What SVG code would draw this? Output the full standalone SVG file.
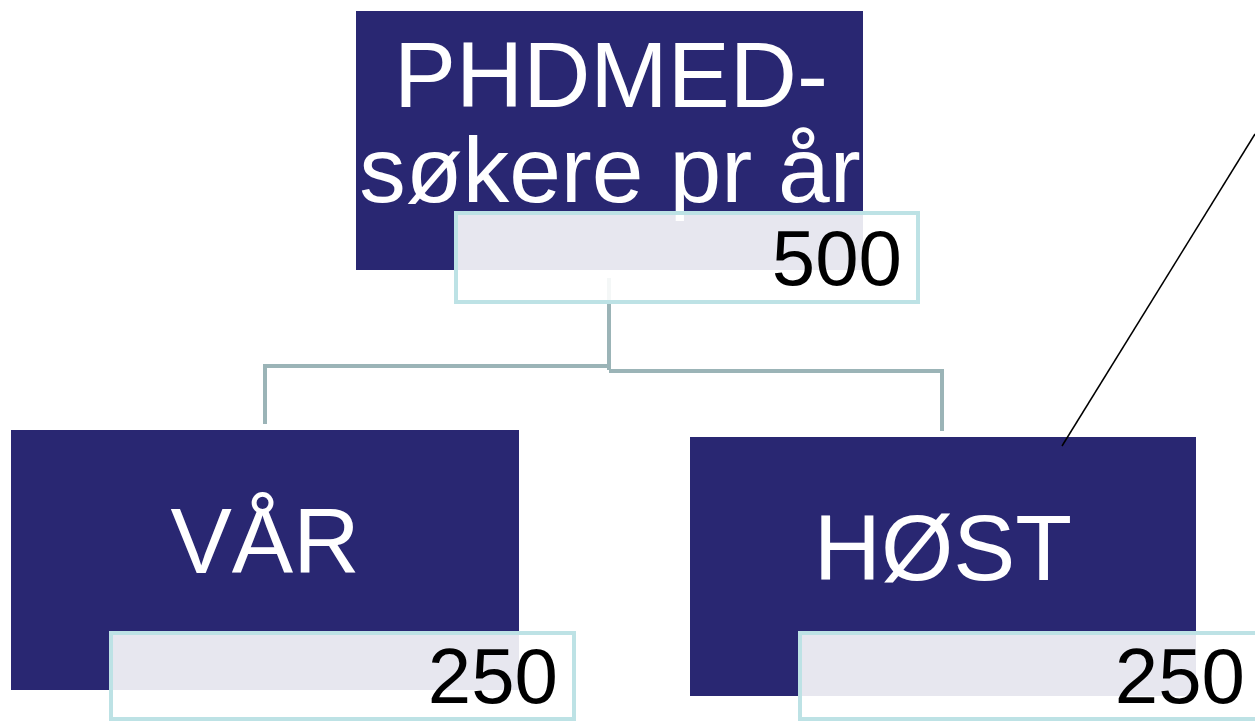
<svg xmlns="http://www.w3.org/2000/svg" width="1255" height="721" viewBox="0 0 1255 721">
<style>
.main{fill:#292772}
.sub{fill:#ffffff;fill-opacity:0.89;stroke:#bde2e5;stroke-width:4}
.t{font-family:"Liberation Sans",Arial,sans-serif;fill:#ffffff;text-anchor:middle}
.n{font-family:"Liberation Sans",Arial,sans-serif;fill:#000000;text-anchor:end;font-size:78px}
.c{fill:none;stroke:#9bb4b7;stroke-width:4}
</style>
<rect width="1255" height="721" fill="#ffffff"/>
<g id="connectors">
<path class="c" d="M609 278 V370 M265 424 V366 H609 M609 371 H942 V431"/>
</g>
<g id="node-top">
<rect class="main" x="356" y="11" width="507" height="259"/>
<text class="t" font-size="93" x="611" y="107">PHDMED-</text>
<text class="t" font-size="93" x="610" y="202">søkere pr år</text>
<rect class="sub" x="456" y="213" width="462" height="89"/>
<text class="n" x="902" y="285">500</text>
</g>
<g id="node-var">
<rect class="main" x="11" y="430" width="508" height="260"/>
<text class="t" font-size="92" x="265" y="573">VÅR</text>
<rect class="sub" x="111" y="633" width="463" height="86"/>
<text class="n" x="558" y="703">250</text>
</g>
<g id="node-host">
<rect class="main" x="690" y="437" width="506" height="259"/>
<text class="t" font-size="93" x="943" y="580">HØST</text>
<rect class="sub" x="800" y="633" width="463" height="86"/>
<text class="n" x="1245" y="703">250</text>
</g>
<g id="pointer">
<line x1="1062" y1="446" x2="1255" y2="134" stroke="#000000" stroke-width="1.5"/>
</g>
</svg>
